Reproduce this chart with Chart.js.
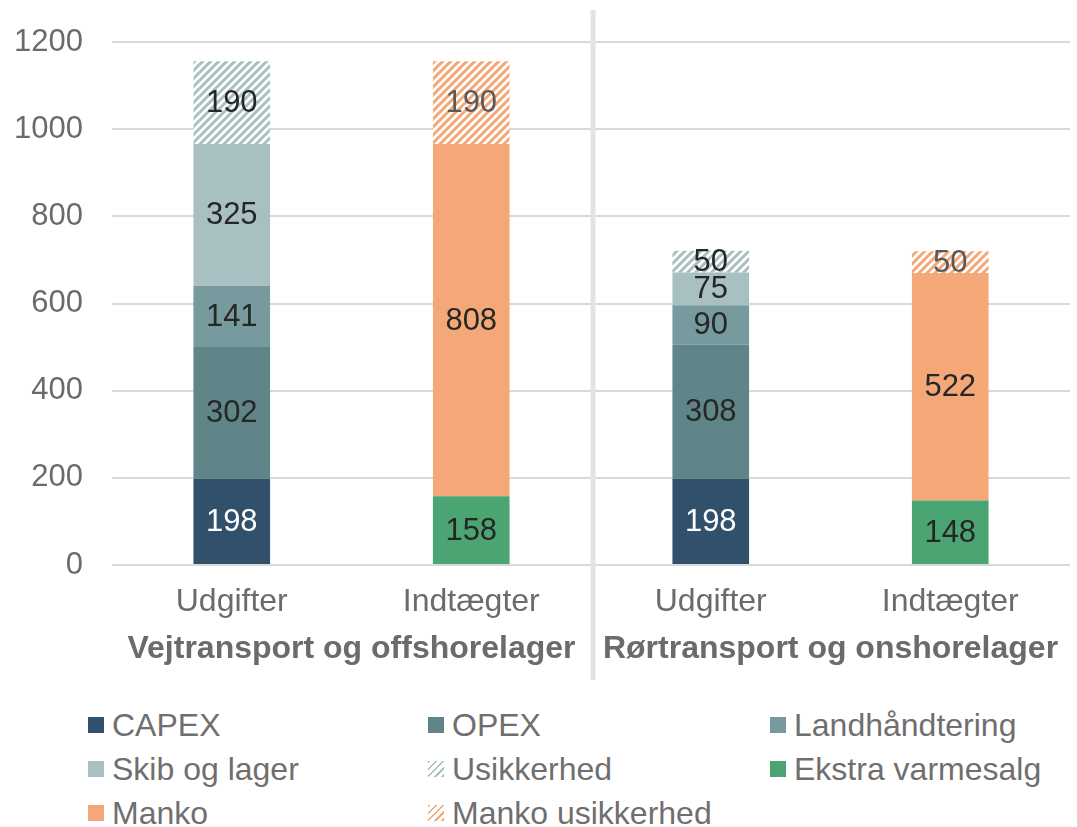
<!DOCTYPE html>
<html>
<head>
<meta charset="utf-8">
<script src="https://cdn.jsdelivr.net/npm/chart.js@4"></script>
<style>
  body { margin: 0; background: #fff; }
  #wrap { position: relative; width: 1077px; height: 827px; }
  #box { position: absolute; left: 0; top: 0; width: 1077px; height: 690px; }
  #legend {
    position: absolute; left: 88px; top: 703px;
    display: grid; grid-template-columns: 340px 342px 300px; grid-auto-rows: 44px;
    font-family: "Liberation Sans", Arial, sans-serif; font-size: 32px; color: #716e6e;
  }
  #legend div { display: flex; align-items: center; white-space: nowrap; }
  #legend span.m { display: inline-block; width: 16px; height: 16px; margin-right: 8px; }
</style>
</head>
<body>
<div id="wrap">
  <div id="box"><canvas id="myChart"></canvas></div>
  <div id="legend"></div>
</div>
<script>
var categories = ['Udgifter', 'Indtægter', 'Udgifter', 'Indtægter'];
var groups = ['Vejtransport og offshorelager', 'Rørtransport og onshorelager'];
var yTicks = [0, 200, 400, 600, 800, 1000, 1200];

var capex = [198, null, 198, null];
var opex = [302, null, 308, null];
var landhaandtering = [141, null, 90, null];
var skibOgLager = [325, null, 75, null];
var usikkerhed = [190, null, 50, null];
var ekstraVarmesalg = [null, 158, null, 148];
var manko = [null, 808, null, 522];
var mankoUsikkerhed = [null, 190, null, 50];

var FONT = '"Liberation Sans", Arial, sans-serif';

function hatch(color) {
  var c = document.createElement('canvas');
  c.width = 8; c.height = 8;
  var g = c.getContext('2d');
  g.fillStyle = '#fff';
  g.fillRect(0, 0, 8, 8);
  g.strokeStyle = color;
  g.lineWidth = 3;
  g.beginPath();
  g.moveTo(-2, 10); g.lineTo(10, -2);
  g.moveTo(-6, 6); g.lineTo(6, -6);
  g.moveTo(2, 14); g.lineTo(14, 2);
  g.stroke();
  return g.createPattern(c, 'repeat');
}

var series = [
  { label: 'CAPEX', data: capex, color: '#30506b', text: '#ffffff' },
  { label: 'OPEX', data: opex, color: '#5f8588', text: '#262626' },
  { label: 'Landhåndtering', data: landhaandtering, color: '#769a9d', text: '#262626' },
  { label: 'Skib og lager', data: skibOgLager, color: '#a8c0c2', text: '#262626' },
  { label: 'Usikkerhed', data: usikkerhed, color: '#a8c0c2', hatched: true, text: '#262626' },
  { label: 'Ekstra varmesalg', data: ekstraVarmesalg, color: '#4aa572', text: '#262626' },
  { label: 'Manko', data: manko, color: '#f5a877', text: '#262626' },
  { label: 'Manko usikkerhed', data: mankoUsikkerhed, color: '#f5a877', hatched: true, text: '#595959' }
];

var datasets = series.map(function (s) {
  return {
    label: s.label,
    data: s.data,
    backgroundColor: s.hatched ? hatch(s.color) : s.color,
    borderWidth: 0,
    barPercentage: 0.32,
    categoryPercentage: 1,
    labelColor: s.text
  };
});

// value labels in the middle of each segment
var valueLabels = {
  id: 'valueLabels',
  afterDatasetsDraw: function (chart) {
    var ctx = chart.ctx;
    ctx.save();
    ctx.font = '31px ' + FONT;
    ctx.textAlign = 'center';
    ctx.textBaseline = 'middle';
    chart.data.datasets.forEach(function (ds, i) {
      var meta = chart.getDatasetMeta(i);
      meta.data.forEach(function (el, j) {
        var v = ds.data[j];
        if (v === null) return;
        ctx.fillStyle = ds.labelColor;
        ctx.fillText(String(v), el.x, (el.y + el.base) / 2 + 1);
      });
    });
    ctx.restore();
  }
};

// vertical line between the two groups
var separator = {
  id: 'separator',
  afterDraw: function (chart) {
    var x = chart.scales.x;
    var px = (x.getPixelForValue(1) + x.getPixelForValue(2)) / 2 + 2;
    var ctx = chart.ctx;
    ctx.save();
    ctx.strokeStyle = '#e3e3e3';
    ctx.lineWidth = 5;
    ctx.beginPath();
    ctx.moveTo(px, 10);
    ctx.lineTo(px, 680);
    ctx.stroke();
    ctx.restore();
  }
};

var ctx = document.getElementById('myChart').getContext('2d');
var myChart = new Chart(ctx, {
  type: 'bar',
  data: {
    labels: categories,
    datasets: datasets
  },
  plugins: [valueLabels, separator],
  options: {
    responsive: true,
    maintainAspectRatio: false,
    animation: false,
    layout: { padding: { top: 42, bottom: 7, left: 14, right: 7 } },
    plugins: {
      legend: { display: false },
      tooltip: { enabled: false }
    },
    scales: {
      x: {
        stacked: true,
        grid: { display: false, drawTicks: false },
        border: { display: false },
        afterFit: function (axis) { axis.height = 58; },
        ticks: {
          color: '#6b6b6b',
          font: { family: FONT, size: 32, lineHeight: 1 },
          padding: 21,
          maxRotation: 0,
          autoSkip: false
        }
      },
      x2: {
        type: 'category',
        labels: groups,
        position: 'bottom',
        grid: { display: false, drawTicks: false },
        border: { display: false },
        afterFit: function (axis) { axis.height = 60; },
        ticks: {
          color: '#6b6b6b',
          font: { family: FONT, size: 32, weight: 'bold', lineHeight: 1 },
          padding: 10,
          maxRotation: 0,
          autoSkip: false
        }
      },
      y: {
        stacked: true,
        min: 0,
        max: 1200,
        afterBuildTicks: function (axis) {
          axis.ticks = yTicks.map(function (v) { return { value: v }; });
        },
        afterFit: function (axis) {
          axis.width = 98;
          axis.paddingTop = 16;
          axis.paddingBottom = 16;
        },
        grid: { color: '#d9d9d9', lineWidth: 2, drawTicks: false },
        border: { display: false },
        ticks: {
          color: '#6b6b6b',
          font: { family: FONT, size: 31 },
          padding: 29,
          callback: function (v) { return String(v); }
        }
      }
    }
  }
});

// legend in three columns
var legend = document.getElementById('legend');
series.forEach(function (s) {
  var item = document.createElement('div');
  var m = document.createElement('span');
  m.className = 'm';
  if (s.hatched) {
    m.style.background = 'repeating-linear-gradient(135deg, ' + s.color + ' 0 2px, #fff 2px 5px)';
  } else {
    m.style.background = s.color;
  }
  item.appendChild(m);
  item.appendChild(document.createTextNode(s.label));
  legend.appendChild(item);
});
</script>
</body>
</html>
